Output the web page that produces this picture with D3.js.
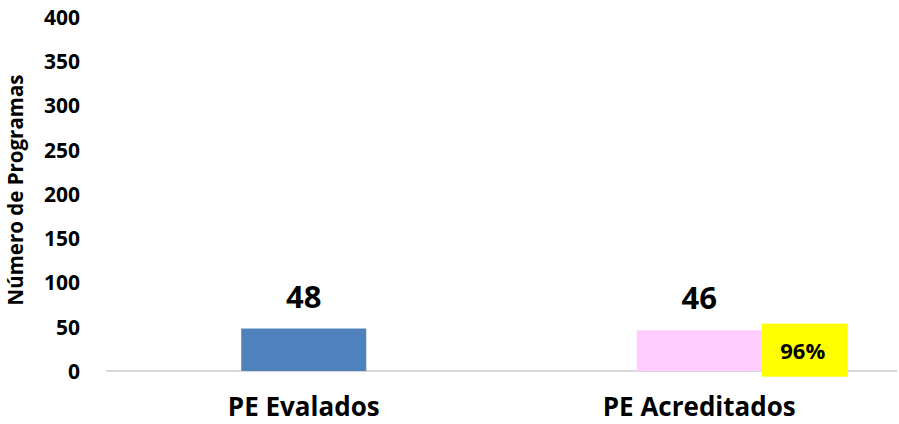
<!DOCTYPE html>
<html><head><meta charset="utf-8">
<script src="https://cdn.jsdelivr.net/npm/d3@7"></script>
<style>body{margin:0;background:#fff}text{font-family:"Open Sans",sans-serif;font-weight:bold}</style>
</head><body>
<svg id="c" width="899" height="424"></svg>
<script>
const categories = ["PE Evalados", "PE Acreditados"];
const values = [48, 46];
const barColors = ["#4f81bd", "#ffccff"];
const pctLabels = [null, "96%"];
const yTicks = [0, 50, 100, 150, 200, 250, 300, 350, 400];

const FONT = "'Open Sans', sans-serif";
const svg = d3.select("#c");
const x = d3.scaleBand().domain(categories).range([106, 897]).paddingInner(0.684).paddingOuter(0.342);
const y = d3.scaleLinear().domain([0, 400]).range([371, 17]);

// y axis labels
const ya = svg.append("g").attr("transform","translate(80,0)")
  .call(d3.axisLeft(y).tickValues(yTicks).tickSize(0).tickPadding(0));
ya.select(".domain").remove();
ya.selectAll("text").attr("font-size",21).attr("fill","#000").attr("dy","0.35em")
  .style("font-family",FONT).style("font-weight","bold");

// baseline
svg.append("line").attr("x1",106).attr("x2",897).attr("y1",y(0)).attr("y2",y(0))
  .attr("stroke","#d9d9d9").attr("stroke-width",2);

// bars
svg.selectAll("rect.bar").data(categories).join("rect").attr("class","bar")
  .attr("x",d=>x(d)).attr("width",x.bandwidth())
  .attr("y",(d,i)=>y(values[i])).attr("height",(d,i)=>y(0)-y(values[i]))
  .attr("fill",(d,i)=>barColors[i]);

// value labels
svg.selectAll("text.val").data(categories).join("text").attr("class","val")
  .attr("x",d=>x(d)+x.bandwidth()/2).attr("y",(d,i)=>y(values[i])-21)
  .attr("text-anchor","middle").attr("font-size",31).attr("fill","#000")
  .text((d,i)=>values[i]);

// percent boxes
categories.forEach((c,i)=>{
  if(!pctLabels[i]) return;
  const cx = x(c)+x.bandwidth(), cy = y(values[i]/2);
  svg.append("rect").attr("x",cx).attr("y",cy-27).attr("width",86).attr("height",53).attr("fill","#ffff00");
  svg.append("text").attr("x",cx+41).attr("y",cy+8).attr("text-anchor","middle")
    .attr("font-size",22).attr("fill","#000").text(pctLabels[i]);
});

// x labels
const xa = svg.append("g").attr("transform",`translate(0,${y(0)})`)
  .call(d3.axisBottom(x).tickSize(0).tickPadding(0));
xa.select(".domain").remove();
xa.selectAll("text").attr("font-size",26).attr("fill","#000").attr("dy",null).attr("y",45)
  .style("font-family",FONT).style("font-weight","bold");

// y title
svg.append("text").attr("transform","translate(23,190) rotate(-90)").attr("text-anchor","middle")
  .attr("font-size",20.5).attr("fill","#000").text("Número de Programas");
</script>
</body></html>
